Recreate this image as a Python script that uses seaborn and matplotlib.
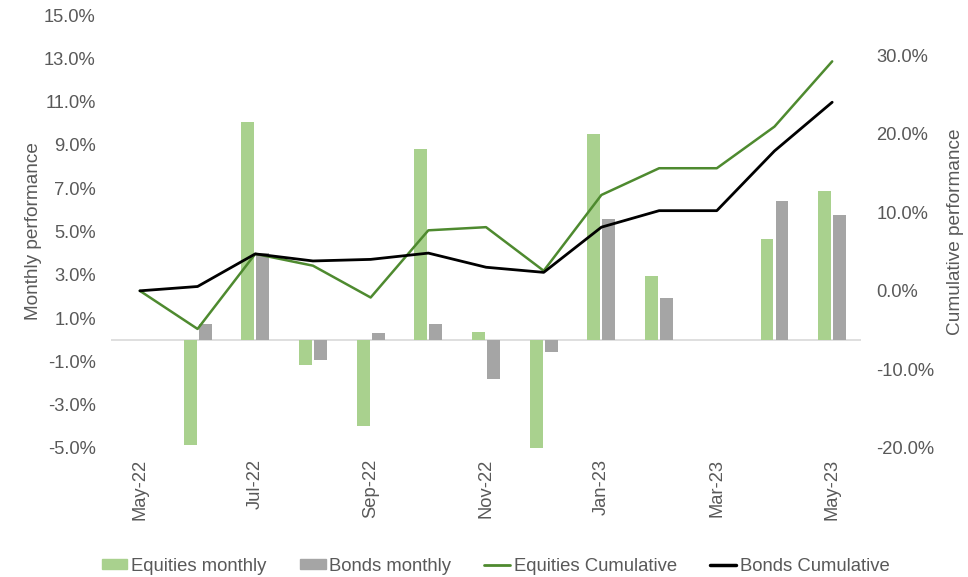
import pandas as pd
import seaborn as sns
import matplotlib.pyplot as plt
import numpy as np
from matplotlib.ticker import FuncFormatter
from matplotlib.patches import Patch
from matplotlib.lines import Line2D

months = ['May-22', 'Jun-22', 'Jul-22', 'Aug-22', 'Sep-22', 'Oct-22', 'Nov-22',
          'Dec-22', 'Jan-23', 'Feb-23', 'Mar-23', 'Apr-23', 'May-23']
equities_monthly = [0.0, -4.85, 10.05, -1.15, -4.0, 8.8, 0.35, -5.0, 9.5, 2.95, 0.0, 4.65, 6.85]
bonds_monthly = [0.0, 0.75, 4.0, -0.95, 0.3, 0.75, -1.8, -0.55, 5.6, 1.95, 0.0, 6.4, 5.75]
equities_cumulative = [0.0, -4.85, 4.7, 3.2, -0.85, 7.7, 8.1, 2.55, 12.2, 15.6, 15.6, 20.9, 29.2]
bonds_cumulative = [0.0, 0.55, 4.7, 3.8, 4.0, 4.8, 3.0, 2.35, 8.1, 10.2, 10.2, 17.8, 24.0]

c_eq_bar = '#a9d18e'
c_bd_bar = '#a5a5a5'
c_eq_line = '#4e8a2f'
c_bd_line = '#000000'
txt = '#595959'

sns.set_theme(style='white')
plt.rcParams['font.family'] = ['Liberation Sans', 'DejaVu Sans']

df_bars = pd.DataFrame({
    'month': months * 2,
    'value': equities_monthly + bonds_monthly,
    'series': ['Equities monthly'] * len(months) + ['Bonds monthly'] * len(months),
})

fig = plt.figure(figsize=(9.68, 5.77), dpi=100)
ax = fig.add_axes([0.1147, 0.2236, 0.7748, 0.7504])

sns.barplot(data=df_bars, x='month', y='value', hue='series', order=months,
            hue_order=['Equities monthly', 'Bonds monthly'],
            palette=[c_eq_bar, c_bd_bar], saturation=1, width=0.52, gap=0.135,
            legend=False, ax=ax, linewidth=0)
ax.axhline(0, color='#d9d9d9', lw=1.2, zorder=0.5)
ax.set_ylim(-5, 15)
ax.set_yticks(np.arange(-5, 16, 2))
ax.yaxis.set_major_formatter(FuncFormatter(lambda v, p: f'{v:.1f}%'))
ax.set_xlim(-0.5, len(months) - 0.5)
ax.set_xticks(range(0, len(months), 2))
ax.set_xticklabels(months[::2], rotation=90)
ax.set_xlabel('')
ax.set_ylabel('Monthly performance', fontsize=13.7, color=txt, labelpad=1.5)
ax.tick_params(axis='y', labelsize=13.2, colors=txt, pad=11, length=0)
ax.tick_params(axis='x', labelsize=13.2, colors=txt, pad=8, length=0)

ax2 = ax.twinx()
x = np.arange(len(months))
sns.lineplot(x=x, y=equities_cumulative, ax=ax2, color=c_eq_line, lw=1.8)
sns.lineplot(x=x, y=bonds_cumulative, ax=ax2, color=c_bd_line, lw=2.0)
ax2.set_ylim(-20, 35.1)
ax2.set_yticks(np.arange(-20, 31, 10))
ax2.yaxis.set_major_formatter(FuncFormatter(lambda v, p: f'{v:.1f}%'))
ax2.set_ylabel('Cumulative performance', fontsize=13.7, color=txt, labelpad=9)
ax2.tick_params(axis='y', labelsize=13.2, colors=txt, pad=11, length=0)
ax2.set_xlim(-0.5, len(months) - 0.5)

for a in (ax, ax2):
    for s in a.spines.values():
        s.set_visible(False)

handles = [Patch(color=c_eq_bar), Patch(color=c_bd_bar),
           Line2D([], [], color=c_eq_line, lw=2), Line2D([], [], color=c_bd_line, lw=2.5)]
labels = ['Equities monthly', 'Bonds monthly', 'Equities Cumulative', 'Bonds Cumulative']
leg = fig.legend(handles, labels, loc='center', bbox_to_anchor=(0.512, 0.019), ncol=4,
                 frameon=False, fontsize=13.3, handlelength=1.4, handleheight=0.5,
                 handletextpad=0.2, columnspacing=1.8)
for t in leg.get_texts():
    t.set_color(txt)

fig.savefig('out.png', dpi=100)
